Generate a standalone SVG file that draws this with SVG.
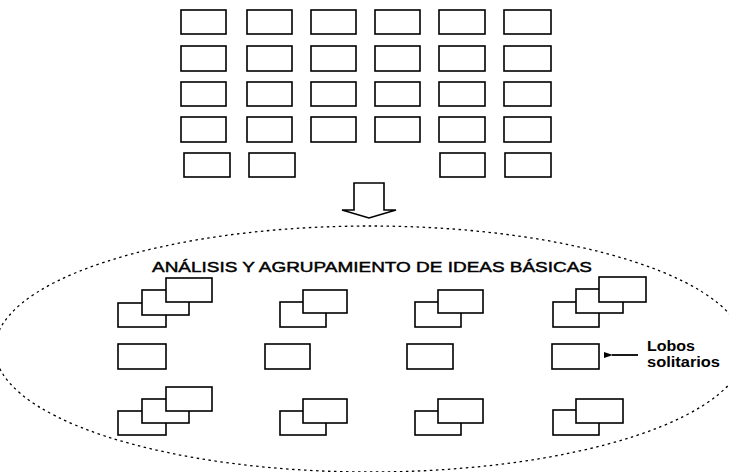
<svg xmlns="http://www.w3.org/2000/svg" width="729" height="472" viewBox="0 0 729 472">
<style>
.b{fill:#fff;stroke:#000;stroke-width:1.6}
.t{font-family:"Liberation Sans",Arial,sans-serif;fill:#000}
.el{fill:none;stroke:#000;stroke-width:1.3;stroke-dasharray:2.5 3.5}
</style>
<defs>
<marker id="ah" markerWidth="9" markerHeight="6" refX="1" refY="3" orient="auto" markerUnits="userSpaceOnUse">
<path d="M9,0 L0,3 L9,6 Z" fill="#000"/>
</marker>
</defs>
<rect width="729" height="472" fill="#fff"/>
<g id="ideas-grid">
<rect class="b" x="181" y="10" width="45" height="24"/>
<rect class="b" x="247" y="10" width="45" height="24"/>
<rect class="b" x="311" y="10" width="45" height="24"/>
<rect class="b" x="375" y="10" width="45" height="24"/>
<rect class="b" x="439" y="10" width="46" height="24"/>
<rect class="b" x="504" y="10" width="47" height="24"/>
<rect class="b" x="181" y="46" width="45" height="25"/>
<rect class="b" x="247" y="46" width="45" height="25"/>
<rect class="b" x="311" y="46" width="45" height="25"/>
<rect class="b" x="375" y="46" width="45" height="25"/>
<rect class="b" x="439" y="46" width="46" height="25"/>
<rect class="b" x="504" y="46" width="47" height="25"/>
<rect class="b" x="181" y="82" width="45" height="24"/>
<rect class="b" x="247" y="82" width="45" height="24"/>
<rect class="b" x="311" y="82" width="45" height="24"/>
<rect class="b" x="375" y="82" width="45" height="24"/>
<rect class="b" x="439" y="82" width="46" height="24"/>
<rect class="b" x="504" y="82" width="47" height="24"/>
<rect class="b" x="181" y="117" width="45" height="25"/>
<rect class="b" x="247" y="117" width="45" height="25"/>
<rect class="b" x="311" y="117" width="45" height="25"/>
<rect class="b" x="375" y="117" width="45" height="25"/>
<rect class="b" x="439" y="117" width="46" height="25"/>
<rect class="b" x="504" y="117" width="47" height="25"/>
<rect class="b" x="184" y="153" width="46" height="24"/>
<rect class="b" x="249" y="153" width="46" height="24"/>
<rect class="b" x="440" y="153" width="45" height="24"/>
<rect class="b" x="505" y="153" width="46" height="24"/>
</g>
<g id="connectors">
<path d="M354,183 L384,183 L384,210 L396,210 L369,218 L342,210 L354,210 Z" fill="#fff" stroke="#000" stroke-width="1.6" stroke-linejoin="miter"/>
<line x1="638" y1="355" x2="612" y2="355" stroke="#000" stroke-width="1.8" marker-end="url(#ah)"/>
</g>
<g id="analysis-ellipse">
<ellipse class="el" cx="370" cy="349" rx="375" ry="123"/>
<text class="t" x="152" y="272" font-size="15" stroke="#000" stroke-width="0.45" textLength="440" lengthAdjust="spacingAndGlyphs">ANÁLISIS Y AGRUPAMIENTO DE IDEAS BÁSICAS</text>
</g>
<g id="group-1">
<rect class="b" x="118" y="303" width="48" height="24"/>
<rect class="b" x="142" y="290" width="47" height="25"/>
<rect class="b" x="166" y="278" width="46" height="24"/>
</g>
<g id="group-2">
<rect class="b" x="280" y="302" width="46" height="25"/>
<rect class="b" x="303" y="290" width="44" height="23"/>
</g>
<g id="group-3">
<rect class="b" x="415" y="302" width="46" height="25"/>
<rect class="b" x="438" y="290" width="45" height="23"/>
</g>
<g id="group-4">
<rect class="b" x="553" y="302" width="46" height="25"/>
<rect class="b" x="576" y="289" width="47" height="24"/>
<rect class="b" x="599" y="277" width="47" height="25"/>
</g>
<g id="single-1"><rect class="b" x="118" y="344" width="48" height="25"/></g>
<g id="single-2"><rect class="b" x="265" y="344" width="45" height="25"/></g>
<g id="single-3"><rect class="b" x="407" y="344" width="46" height="25"/></g>
<g id="single-4"><rect class="b" x="552" y="344" width="47" height="25"/></g>
<g id="lobos-label">
<text class="t" x="647" y="351" font-size="14" font-weight="bold" textLength="48" lengthAdjust="spacingAndGlyphs">Lobos</text>
<text class="t" x="647" y="367" font-size="14" font-weight="bold" textLength="73" lengthAdjust="spacingAndGlyphs">solitarios</text>
</g>
<g id="group-5">
<rect class="b" x="118" y="411" width="48" height="24"/>
<rect class="b" x="142" y="399" width="47" height="24"/>
<rect class="b" x="166" y="387" width="46" height="24"/>
</g>
<g id="group-6">
<rect class="b" x="280" y="411" width="46" height="24"/>
<rect class="b" x="303" y="399" width="44" height="24"/>
</g>
<g id="group-7">
<rect class="b" x="415" y="411" width="46" height="24"/>
<rect class="b" x="438" y="399" width="45" height="24"/>
</g>
<g id="group-8">
<rect class="b" x="553" y="410" width="46" height="25"/>
<rect class="b" x="576" y="399" width="47" height="24"/>
</g>
</svg>
